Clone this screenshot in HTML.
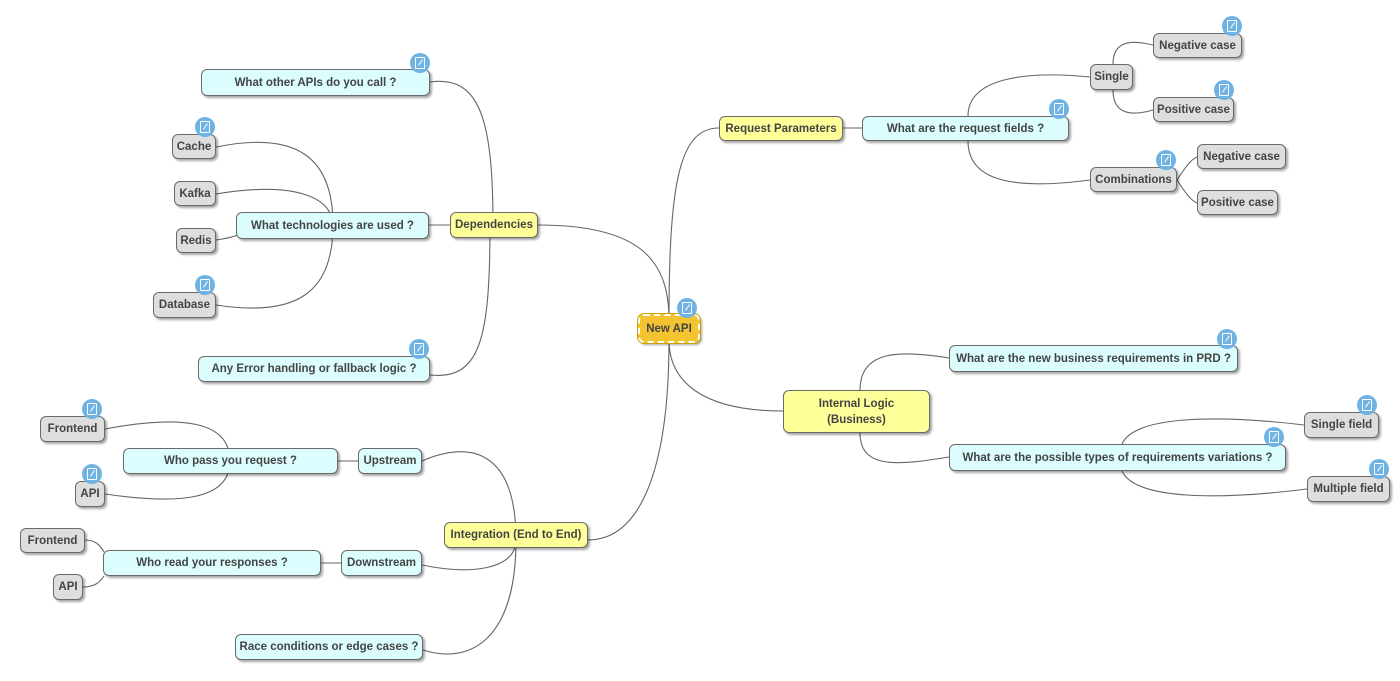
<!DOCTYPE html>
<html><head><meta charset="utf-8"><style>
html,body{margin:0;padding:0;background:#fff;}
body{width:1400px;height:681px;position:relative;overflow:hidden;font-family:"Liberation Sans","DejaVu Sans",sans-serif;}
.n{position:absolute;box-sizing:border-box;border:1px solid #6a6a6a;border-radius:6px;display:flex;align-items:center;justify-content:center;text-align:center;font-weight:bold;font-size:11.5px;color:#444;box-shadow:2px 2px 2px rgba(0,0,0,0.35);line-height:16px;white-space:nowrap;}
.c{background:#dcfdfd;}
.y{background:#ffff99;}
.g{background:#dedede;}
.ic{position:absolute;width:20px;height:20px;border-radius:50%;background:#6fb2e4;}
.ic::before{content:"";position:absolute;left:5px;top:4px;width:8px;height:10px;border:1.3px solid #fff;border-radius:1px;}
.ic::after{content:"";position:absolute;left:10px;top:6px;width:1.3px;height:7px;background:#fff;transform:rotate(35deg);}
svg{position:absolute;left:0;top:0;}
</style></head><body>
<svg width="1400" height="681" fill="none" stroke="#666" stroke-width="1.1">
<path d="M669 320 C669 180 680 128 719 128"/>
<path d="M538 225 C640 225 669 260 669 320"/>
<path d="M669 340 C669 380 700 411 783 411"/>
<path d="M588 540 C640 540 669 470 669 340"/>
<path d="M843 128 L862 128"/>
<path d="M968 116 C968 80 1020 70 1090 77"/>
<path d="M968 141 C968 175 1000 192 1090 180"/>
<path d="M1113 64 C1113 45 1125 38 1153 45"/>
<path d="M1113 90 C1113 110 1125 118 1153 110"/>
<path d="M1177 180 C1185 168 1190 160 1197 157"/>
<path d="M1177 180 C1185 192 1190 200 1197 203"/>
<path d="M430 82 C480 75 493 120 493 225"/>
<path d="M430 375 C480 380 490 340 490 225"/>
<path d="M429 225 L450 225"/>
<path d="M216 147 C300 130 333 160 333 225"/>
<path d="M216 194 C300 180 333 200 333 225"/>
<path d="M216 240 C230 238 236 236 240 234"/>
<path d="M216 305 C300 318 333 290 333 225"/>
<path d="M860 390 C860 350 900 350 949 358"/>
<path d="M860 433 C860 470 900 465 949 457"/>
<path d="M1122 444 C1135 415 1220 415 1304 425"/>
<path d="M1122 471 C1135 500 1220 500 1307 489"/>
<path d="M422 461 C470 440 516 450 516 540"/>
<path d="M422 565 C470 575 516 570 516 540"/>
<path d="M423 650 C470 665 516 640 516 540"/>
<path d="M338 461 L358 461"/>
<path d="M321 563 L341 563"/>
<path d="M105 429 C180 415 230 420 230 461"/>
<path d="M105 494 C180 505 230 500 230 461"/>
<path d="M85 540 C95 540 100 545 104 552"/>
<path d="M83 587 C95 587 100 582 104 576"/>
</svg>

<div class="n y" style="left:638px;top:314px;width:62px;height:29px;border:2px dashed #fff;outline:1px solid #c9a200;background:#f4c430;">New API</div>
<div class="ic" style="left:677px;top:298px"></div>

<div class="n y" style="left:719px;top:116px;width:124px;height:25px">Request Parameters</div>
<div class="n c" style="left:862px;top:116px;width:207px;height:25px">What are the request fields ?</div>
<div class="ic" style="left:1049px;top:99px"></div>
<div class="n g" style="left:1090px;top:64px;width:43px;height:26px">Single</div>
<div class="n g" style="left:1153px;top:33px;width:89px;height:25px">Negative case</div>
<div class="ic" style="left:1222px;top:16px"></div>
<div class="n g" style="left:1153px;top:97px;width:81px;height:25px">Positive case</div>
<div class="ic" style="left:1214px;top:80px"></div>
<div class="n g" style="left:1090px;top:167px;width:87px;height:25px">Combinations</div>
<div class="ic" style="left:1156px;top:150px"></div>
<div class="n g" style="left:1197px;top:144px;width:89px;height:25px">Negative case</div>
<div class="n g" style="left:1197px;top:190px;width:81px;height:25px">Positive case</div>

<div class="n y" style="left:450px;top:212px;width:88px;height:26px">Dependencies</div>
<div class="n c" style="left:201px;top:69px;width:229px;height:27px">What other APIs do you call ?</div>
<div class="ic" style="left:410px;top:53px"></div>
<div class="n c" style="left:236px;top:212px;width:193px;height:27px">What technologies are used ?</div>
<div class="n g" style="left:172px;top:134px;width:44px;height:25px">Cache</div>
<div class="ic" style="left:195px;top:117px"></div>
<div class="n g" style="left:174px;top:181px;width:42px;height:25px">Kafka</div>
<div class="n g" style="left:176px;top:228px;width:40px;height:25px">Redis</div>
<div class="n g" style="left:153px;top:292px;width:63px;height:26px">Database</div>
<div class="ic" style="left:195px;top:275px"></div>
<div class="n c" style="left:198px;top:356px;width:232px;height:26px">Any Error handling or fallback logic ?</div>
<div class="ic" style="left:409px;top:339px"></div>

<div class="n y" style="left:783px;top:390px;width:147px;height:43px">Internal Logic<br>(Business)</div>
<div class="n c" style="left:949px;top:345px;width:289px;height:27px">What are the new business requirements in PRD ?</div>
<div class="ic" style="left:1217px;top:329px"></div>
<div class="n c" style="left:949px;top:444px;width:337px;height:27px">What are the possible types of requirements variations ?</div>
<div class="ic" style="left:1264px;top:427px"></div>
<div class="n g" style="left:1304px;top:412px;width:75px;height:26px">Single field</div>
<div class="ic" style="left:1357px;top:395px"></div>
<div class="n g" style="left:1307px;top:476px;width:83px;height:26px">Multiple field</div>
<div class="ic" style="left:1369px;top:459px"></div>

<div class="n y" style="left:444px;top:522px;width:144px;height:26px">Integration (End to End)</div>
<div class="n c" style="left:358px;top:448px;width:64px;height:26px">Upstream</div>
<div class="n c" style="left:123px;top:448px;width:215px;height:26px">Who pass you request ?</div>
<div class="n g" style="left:40px;top:416px;width:65px;height:26px">Frontend</div>
<div class="ic" style="left:82px;top:399px"></div>
<div class="n g" style="left:75px;top:481px;width:30px;height:26px">API</div>
<div class="ic" style="left:82px;top:464px"></div>
<div class="n c" style="left:341px;top:550px;width:81px;height:26px">Downstream</div>
<div class="n c" style="left:103px;top:550px;width:218px;height:26px">Who read your responses ?</div>
<div class="n g" style="left:20px;top:528px;width:65px;height:25px">Frontend</div>
<div class="n g" style="left:53px;top:574px;width:30px;height:26px">API</div>
<div class="n c" style="left:235px;top:634px;width:188px;height:26px">Race conditions or edge cases ?</div>
</body></html>
